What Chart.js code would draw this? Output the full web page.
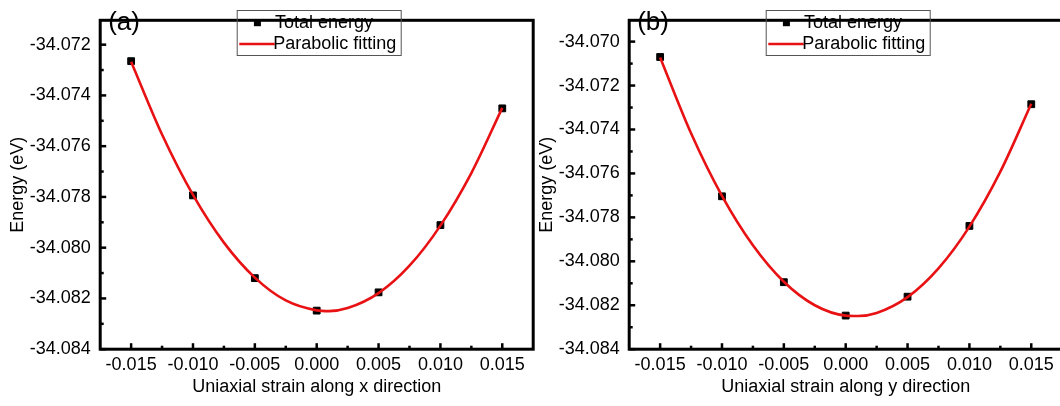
<!DOCTYPE html>
<html>
<head>
<meta charset="utf-8">
<script src="https://cdn.jsdelivr.net/npm/chart.js@4.4.1/dist/chart.umd.min.js"></script>
<style>
  html, body { margin: 0; padding: 0; background: #ffffff; overflow: hidden; }
  #wrap { position: relative; width: 1060px; height: 406px; overflow: hidden; background: #ffffff; }
  .panel { position: absolute; top: 0; width: 540px; height: 406px; }
</style>
</head>
<body>
<div id="wrap">
  <div class="panel" style="left:0px"><canvas id="chartA" width="540" height="406"></canvas></div>
  <div class="panel" style="left:529px"><canvas id="chartB" width="540" height="406"></canvas></div>
</div>
<script>
// Strain values of the computed points (same for both directions)
const strainPoints = [-0.015, -0.010, -0.005, 0.000, 0.005, 0.010, 0.015];

// Total energy (eV) under strain along x
const energyAlongX = [-34.07265, -34.07794, -34.08120, -34.08248, -34.08176, -34.07911, -34.07451];
// Total energy (eV) under strain along y
const energyAlongY = [-34.07070, -34.07704, -34.08095, -34.08247, -34.08161, -34.07839, -34.07285];

// Sampled points of the parabolic fitting curves
const fitStrain = [-0.015, -0.0125, -0.010, -0.0075, -0.005, -0.0025, 0.000, 0.001, 0.0025, 0.005, 0.0075, 0.010, 0.0125, 0.015];
const fitAlongX = [-34.07267, -34.07554, -34.07792, -34.07980, -34.08118, -34.08208, -34.08247, -34.08250, -34.08238, -34.08179, -34.08071, -34.07913, -34.07706, -34.07449];
const fitAlongY = [-34.07072, -34.07417, -34.07702, -34.07927, -34.08093, -34.08200, -34.08247, -34.08249, -34.08235, -34.08163, -34.08032, -34.07842, -34.07592, -34.07283];

// Tick labels
const strainTicks = [-0.015, -0.010, -0.005, 0.000, 0.005, 0.010, 0.015];
const energyTicksX = [-34.084, -34.082, -34.080, -34.078, -34.076, -34.074, -34.072];
const energyTicksY = [-34.084, -34.082, -34.080, -34.078, -34.076, -34.074, -34.072, -34.070];

const FONT = '"Liberation Sans", Arial, Helvetica, sans-serif';
const RED = 'rgb(232, 18, 20)';
const INK = '#000000';

// Frame, inward major/minor ticks, legend box and panel letter
const decorPlugin = {
  id: 'decor',
  afterDraw(chart, args, opts) {
    const ctx = chart.ctx;
    const { left, right, top, bottom } = chart.chartArea;
    const xs = chart.scales.x, ys = chart.scales.y;
    ctx.save();
    ctx.strokeStyle = INK;
    ctx.lineCap = 'butt';

    // tick marks pointing into the plot
    ctx.lineWidth = 2.5;
    const seg = (x1, y1, x2, y2) => { ctx.beginPath(); ctx.moveTo(x1, y1); ctx.lineTo(x2, y2); ctx.stroke(); };
    const xt = opts.xTicks, yt = opts.yTicks;
    xt.forEach(v => { const p = xs.getPixelForValue(v); seg(p, bottom, p, bottom - 6); });
    for (let i = 0; i < xt.length - 1; i++) {
      const p = xs.getPixelForValue((xt[i] + xt[i + 1]) / 2); seg(p, bottom, p, bottom - 3.5);
    }
    yt.forEach(v => { const p = ys.getPixelForValue(v); seg(left, p, left + 6, p); });
    for (let i = 0; i < yt.length - 1; i++) {
      const p = ys.getPixelForValue((yt[i] + yt[i + 1]) / 2); seg(left, p, left + 3.5, p);
    }

    // plot frame
    ctx.lineWidth = 3;
    ctx.lineJoin = 'miter';
    ctx.strokeRect(left, top, right - left, bottom - top);

    // legend
    const bx = left + 136.5, by = 10, bw = 164, bh = 45;
    ctx.lineWidth = 1;
    ctx.strokeStyle = '#555555';
    ctx.strokeRect(bx + 0.5, by + 0.5, bw, bh);
    ctx.fillStyle = INK;
    ctx.fillRect(bx + 17.2, by + 9.2, 7, 7);
    ctx.strokeStyle = RED;
    ctx.lineWidth = 2.5;
    seg(bx + 2.6, by + 34, bx + 38, by + 34);
    ctx.font = '18px ' + FONT;
    ctx.textBaseline = 'middle';
    ctx.textAlign = 'left';
    ctx.fillStyle = INK;
    ctx.fillText('Total energy', bx + 38.3, by + 12.7);
    ctx.fillText('Parabolic fitting', bx + 36.6, by + 34);

    // panel letter
    ctx.font = '26px ' + FONT;
    ctx.textBaseline = 'alphabetic';
    ctx.fillText(opts.letter, left + 8, 29.5);
    ctx.restore();
  }
};

function buildChart(canvasId, energies, fitEnergies, yTicks, yMax, xTitle, letter) {
  const pts = strainPoints.map((s, i) => ({ x: s, y: energies[i] }));
  const fit = fitStrain.map((s, i) => ({ x: s, y: fitEnergies[i] }));
  return new Chart(document.getElementById(canvasId), {
    type: 'scatter',
    data: {
      datasets: [
        {
          label: 'Total energy',
          data: pts,
          order: 1,
          pointStyle: 'rect',
          pointRadius: 4.8,
          pointBorderWidth: 1,
          pointBackgroundColor: INK,
          pointBorderColor: INK,
          showLine: false
        },
        {
          label: 'Parabolic fitting',
          data: fit,
          order: 0,
          showLine: true,
          borderColor: RED,
          borderWidth: 2.6,
          pointRadius: 0,
          cubicInterpolationMode: 'monotone',
          fill: false
        }
      ]
    },
    options: {
      responsive: false,
      animation: false,
      devicePixelRatio: 1,
      layout: { padding: { top: 1.5, right: 6.8, left: 0, bottom: 0 } },
      plugins: {
        legend: { display: false },
        tooltip: { enabled: false },
        decor: { xTicks: strainTicks, yTicks: yTicks, letter: letter }
      },
      scales: {
        x: {
          type: 'linear',
          min: -0.0175,
          max: 0.0175,
          afterBuildTicks: s => { s.ticks = strainTicks.map(v => ({ value: v })); },
          afterFit: s => { s.height = 56.8; },
          grid: { display: false, drawTicks: false },
          border: { display: false },
          ticks: {
            autoSkip: false,
            maxRotation: 0,
            padding: 5.5,
            color: INK,
            font: { family: FONT, size: 18 },
            callback: v => v.toFixed(3)
          },
          title: {
            display: true,
            text: xTitle,
            color: INK,
            font: { family: FONT, size: 18 },
            padding: { top: 0, bottom: 8.5 }
          }
        },
        y: {
          type: 'linear',
          min: -34.084,
          max: yMax,
          afterBuildTicks: s => { s.ticks = yTicks.map(v => ({ value: v })); },
          afterFit: s => { s.width = 100.2; },
          grid: { display: false, drawTicks: false },
          border: { display: false },
          ticks: {
            autoSkip: false,
            padding: 9.5,
            color: INK,
            font: { family: FONT, size: 18 },
            callback: v => v.toFixed(3)
          },
          title: {
            display: true,
            text: 'Energy (eV)',
            color: INK,
            font: { family: FONT, size: 18 },
            padding: { top: 7, bottom: 0 }
          }
        }
      }
    },
    plugins: [decorPlugin]
  });
}

buildChart('chartA', energyAlongX, fitAlongX, energyTicksX, -34.07104, 'Uniaxial strain along x direction', '(a)');
buildChart('chartB', energyAlongY, fitAlongY, energyTicksY, -34.06903, 'Uniaxial strain along y direction', '(b)');
</script>
</body>
</html>
